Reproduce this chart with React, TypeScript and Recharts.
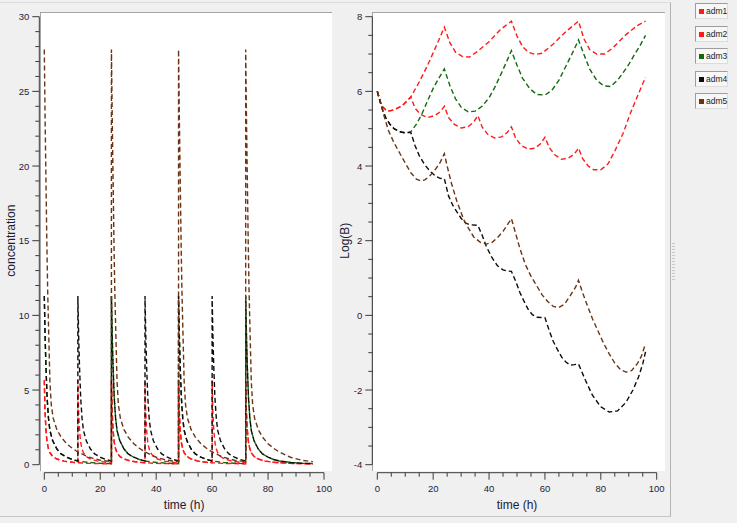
import React from "react";
import { LineChart, Line, XAxis, YAxis } from "recharts";

const SERIES_NAMES = ["adm1", "adm2", "adm3", "adm4", "adm5"];
const SERIES_COLORS = ["#ff1a1a", "#ff1a1a", "#13690f", "#0c0c0c", "#6b3414"];

// dosing times (h)
const DOSES_Q12 = [0, 12, 24, 36, 48, 60, 72];
const DOSES_Q24 = [0, 24, 48, 72];
const LAST_T = 96;

// one concentration spike: [hours after dose, concentration]
const SPIKE_RED: [number, number][] = [
  [0, 5.65], [0.25, 3.6], [0.6, 2.3], [1, 1.5], [1.5, 1.05], [2, 0.8], [3, 0.55],
  [4.5, 0.38], [7, 0.24], [10, 0.16], [12, 0.13], [16, 0.09], [20, 0.07], [24, 0.05],
];
const SPIKE_BLACK: [number, number][] = [
  [0, 11.3], [0.3, 8.5], [0.6, 6.5], [1, 4.5], [1.5, 3.1], [2, 2.3], [3, 1.6],
  [4.5, 1.05], [6, 0.72], [8, 0.5], [10, 0.35], [12, 0.25], [16, 0.15], [20, 0.1], [24, 0.07],
];
const SPIKE_BROWN: [number, number][] = [
  [0, 27.8], [0.3, 23], [0.6, 19], [0.9, 15], [1.2, 11.7], [1.6, 8.6], [2, 5.6],
  [2.5, 4], [3.2, 3.1], [4.5, 2.35], [6, 1.85], [8, 1.4], [10, 1.1], [12, 0.85],
  [16, 0.5], [20, 0.3], [24, 0.2],
];

// Log(B) curves: [time, value]
const LOGB_ADM1: [number, number][] = [
  [0, 6], [1.5, 5.62], [3.5, 5.47], [6, 5.5], [9, 5.62], [12, 5.85], [15, 6.25],
  [18, 6.7], [21, 7.2], [24, 7.72], [26, 7.3], [28, 7.05], [30.5, 6.93], [33, 6.92],
  [36, 7.08], [40, 7.33], [44, 7.65], [48, 7.88], [50, 7.48], [52, 7.2], [54, 7.05],
  [56.5, 6.99], [59, 7.02], [63, 7.27], [67.5, 7.6], [72, 7.88], [74, 7.4], [76, 7.12],
  [78.5, 7.0], [81.5, 7.0], [84.5, 7.18], [89, 7.52], [93, 7.76], [96, 7.88],
];
const LOGB_ADM2: [number, number][] = [
  [0, 6], [1.5, 5.62], [3.5, 5.47], [6, 5.5], [9, 5.62], [12, 5.85], [13.5, 5.55],
  [15.5, 5.38], [18, 5.3], [20.5, 5.35], [22.5, 5.45], [24, 5.6], [25.5, 5.3],
  [27.5, 5.12], [30, 5.02], [32.5, 5.05], [34.5, 5.18], [36, 5.35], [37.5, 5.05],
  [39.5, 4.85], [42, 4.75], [44.5, 4.78], [46.5, 4.9], [48, 5.05], [49.5, 4.75],
  [51.5, 4.55], [54, 4.45], [56.5, 4.48], [58.5, 4.6], [60, 4.77], [61.5, 4.5],
  [63.5, 4.3], [66, 4.18], [68.5, 4.22], [70.5, 4.32], [72, 4.48], [73.5, 4.2],
  [75.5, 4.0], [77.5, 3.9], [80, 3.9], [82.5, 4.05], [85, 4.4], [88, 4.88],
  [90.5, 5.4], [93, 5.85], [96, 6.38],
];
const LOGB_ADM3: [number, number][] = [
  [0, 6], [1, 5.72], [2, 5.48], [3, 5.3], [4.5, 5.12], [6, 5.0], [8, 4.92], [10, 4.89],
  [12, 4.92], [14, 5.12], [16, 5.4], [18, 5.75], [20, 6.08], [22, 6.35], [24, 6.6],
  [26, 6.15], [28, 5.8], [30, 5.58], [32.5, 5.45], [35, 5.47], [37.5, 5.6], [40, 5.83],
  [42, 6.1], [44, 6.42], [46, 6.75], [48, 7.09], [50, 6.7], [52, 6.35], [54.5, 6.08],
  [57, 5.92], [60, 5.9], [62.5, 6.03], [65, 6.3], [68, 6.75], [70, 7.05], [72, 7.38],
  [74, 6.98], [76, 6.6], [78.5, 6.3], [81, 6.15], [83.5, 6.13], [86, 6.3], [88, 6.5],
  [90, 6.72], [92, 6.98], [94, 7.22], [96, 7.5],
];
const LOGB_ADM4: [number, number][] = [
  [0, 6], [1, 5.72], [2, 5.48], [3, 5.3], [4.5, 5.12], [6, 5.0], [8, 4.92], [10, 4.89],
  [12, 4.9], [13.5, 4.55], [15, 4.28], [17, 4.03], [19, 3.85], [21, 3.72], [22.5, 3.67],
  [24, 3.66], [25.5, 3.2], [27, 2.95], [28.5, 2.77], [30, 2.6], [31.5, 2.48], [33, 2.43],
  [36, 2.41], [37.5, 2.15], [39, 1.85], [41, 1.55], [43, 1.33], [45, 1.22], [46.5, 1.19],
  [48, 1.18], [49.5, 0.92], [51, 0.62], [52.5, 0.38], [54, 0.16], [55.5, 0.02],
  [57, -0.05], [60, -0.06], [61.5, -0.4], [63, -0.7], [64.5, -0.92], [66, -1.12],
  [67.5, -1.25], [69, -1.33], [70.5, -1.32], [72, -1.3], [74.5, -1.74], [77, -2.14],
  [80, -2.45], [83, -2.59], [86, -2.56], [89, -2.33], [91.5, -2.0], [93.5, -1.65],
  [95, -1.3], [96, -0.98],
];
const LOGB_ADM5: [number, number][] = [
  [0, 6], [1, 5.75], [2.5, 5.32], [4, 4.95], [6, 4.62], [8, 4.35], [10, 4.08], [12, 3.82],
  [14, 3.65], [15.5, 3.6], [17, 3.63], [19, 3.75], [21, 3.93], [22.5, 4.1], [24, 4.33],
  [25, 4.0], [26.5, 3.55], [28.5, 3.05], [31, 2.55], [32.5, 2.35], [34.5, 2.1], [37, 1.95],
  [39, 1.91], [41, 1.95], [43, 2.08], [45, 2.25], [46.5, 2.42], [48, 2.59], [49.5, 2.2],
  [51, 1.8], [53, 1.36], [55, 1.05], [57, 0.8], [59, 0.55], [61, 0.37], [63, 0.24],
  [65, 0.21], [67, 0.3], [69, 0.52], [71, 0.76], [72, 0.94], [73.5, 0.6], [75, 0.3],
  [77, -0.09], [79, -0.42], [81, -0.75], [83, -1.03], [85, -1.28], [87, -1.45],
  [89, -1.52], [91, -1.48], [93, -1.3], [94.5, -1.1], [96, -0.76],
];

const X_TICKS = [0, 5, 10, 15, 20, 25, 30, 35, 40, 45, 50, 55, 60, 65, 70, 75, 80, 85, 90, 95, 100];
const X_LABELS = [0, 20, 40, 60, 80, 100];
const CONC_TICKS = [0, 1, 2, 3, 4, 5, 6, 7, 8, 9, 10, 11, 12, 13, 14, 15, 16, 17, 18, 19, 20, 21, 22, 23, 24, 25, 26, 27, 28, 29, 30];
const CONC_LABELS = [0, 5, 10, 15, 20, 25, 30];
const LOGB_TICKS = [-4, -3.5, -3, -2.5, -2, -1.5, -1, -0.5, 0, 0.5, 1, 1.5, 2, 2.5, 3, 3.5, 4, 4.5, 5, 5.5, 6, 6.5, 7, 7.5, 8];
const LOGB_LABELS = [-4, -2, 0, 2, 4, 6, 8];

const FONT = "'Liberation Sans', Arial, sans-serif";
const INK = "#1c1c36";
const AXIS = "#3a3a3a";
const DASH = "5 3";

// repeat one spike at every dose time
function spikes(profile: [number, number][], doses: number[]) {
  const out: { t: number; v: number }[] = [];
  doses.forEach((d, i) => {
    const next = i < doses.length - 1 ? doses[i + 1] : LAST_T;
    profile.forEach(([dt, v]) => {
      if (d + dt <= next) out.push({ t: d + dt, v });
    });
  });
  return out;
}

const pts = (arr: [number, number][]) => arr.map(([t, v]) => ({ t, v }));

const CONC_DATA = [
  spikes(SPIKE_RED, DOSES_Q24),
  spikes(SPIKE_RED, DOSES_Q12),
  spikes(SPIKE_BLACK, DOSES_Q24),
  spikes(SPIKE_BLACK, DOSES_Q12),
  spikes(SPIKE_BROWN, DOSES_Q24),
];
const LOGB_DATA = [LOGB_ADM1, LOGB_ADM2, LOGB_ADM3, LOGB_ADM4, LOGB_ADM5].map(pts);

function BottomTick({ x, y, payload, labels }: any) {
  const major = labels.includes(payload.value);
  const y0 = y + 8;
  return (
    <g>
      <line x1={x} x2={x} y1={y0} y2={y0 + (major ? 7 : 4)} stroke={AXIS} />
      {major && (
        <text x={x} y={y0 + 19} textAnchor="middle" fill={INK} fontSize={9.5} fontFamily={FONT}>
          {payload.value}
        </text>
      )}
    </g>
  );
}

function LeftTick({ x, y, payload, labels }: any) {
  const major = labels.includes(payload.value);
  const x0 = x - 5;
  return (
    <g>
      <line x1={x0} x2={x0 - (major ? 7 : 4)} y1={y} y2={y} stroke={AXIS} />
      {major && (
        <text x={x0 - 10} y={y + 3.5} textAnchor="end" fill={INK} fontSize={9.5} fontFamily={FONT}>
          {payload.value}
        </text>
      )}
    </g>
  );
}

function VerticalTitle({ viewBox, text, cx }: any) {
  if (!viewBox) return null;
  const x = viewBox.x + cx;
  const y = viewBox.y + viewBox.height / 2;
  return (
    <text
      x={x}
      y={y}
      transform={`rotate(-90 ${x} ${y})`}
      textAnchor="middle"
      dominantBaseline="central"
      fill={INK}
      fontSize={12}
      fontFamily={FONT}
    >
      {text}
    </text>
  );
}

function Panel({
  data,
  domain,
  ticks,
  labels,
  title,
  titleX,
  width,
  yAxisWidth,
  right,
}: any) {
  return (
    <LineChart width={width} height={523} margin={{ top: 16.7, right, bottom: 0, left: 0 }}>
      <XAxis
        type="number"
        dataKey="t"
        domain={[0, 100]}
        ticks={X_TICKS}
        interval={0}
        height={58.3}
        tickSize={0}
        tickMargin={0}
        tickLine={false}
        tick={(p: any) => <BottomTick {...p} labels={X_LABELS} />}
        axisLine={{ stroke: AXIS, transform: "translate(0 8)" }}
        label={{
          value: "time (h)",
          position: "insideBottom",
          offset: 14,
          fill: INK,
          fontSize: 12,
          fontFamily: FONT,
        }}
      />
      <YAxis
        type="number"
        domain={domain}
        ticks={ticks}
        interval={0}
        width={yAxisWidth}
        tickSize={0}
        tickMargin={0}
        tickLine={false}
        tick={(p: any) => <LeftTick {...p} labels={labels} />}
        axisLine={{ stroke: AXIS, transform: "translate(-5 0)" }}
        label={(p: any) => <VerticalTitle {...p} text={title} cx={titleX} />}
      />
      {data.map((d: any, i: number) => (
        <Line
          key={SERIES_NAMES[i]}
          data={d}
          dataKey="v"
          name={SERIES_NAMES[i]}
          type="linear"
          stroke={SERIES_COLORS[i]}
          strokeWidth={1.4}
          strokeDasharray={DASH}
          dot={false}
          isAnimationActive={false}
        />
      ))}
    </LineChart>
  );
}

function LegendBox() {
  return (
    <div style={{ position: "absolute", left: 695, top: 3 }}>
      {SERIES_NAMES.map((n, i) => (
        <div
          key={n}
          style={{
            position: "absolute",
            top: i * 22.6,
            left: 0,
            width: 31,
            height: 14,
            background: "#f7f7f7",
            borderTop: "1px solid #9d9d9d",
            borderLeft: "1px solid #9d9d9d",
            borderRight: "1px solid #dcdcdc",
            borderBottom: "1px solid #dcdcdc",
            fontFamily: FONT,
            fontSize: 8.5,
            color: "#222",
          }}
        >
          <span
            style={{
              position: "absolute",
              left: 3,
              top: 5,
              width: 5,
              height: 5,
              background: SERIES_COLORS[i],
            }}
          />
          <span style={{ position: "absolute", left: 10, top: 2 }}>{n}</span>
        </div>
      ))}
    </div>
  );
}

export default function App() {
  return (
    <div
      style={{
        position: "absolute",
        left: 0,
        top: 0,
        width: 737,
        height: 523,
        background: "#f0f0f0",
        overflow: "hidden",
      }}
    >
      <div
        style={{
          position: "absolute",
          left: -1,
          top: 2,
          width: 671,
          height: 513,
          borderTop: "1px solid #dcdcdc",
          borderRight: "1px solid #b4b4b4",
          borderBottom: "1px solid #c4c4c4",
        }}
      />
      <div
        style={{
          position: "absolute",
          left: 672,
          top: 243,
          width: 3,
          height: 38,
          background: "repeating-linear-gradient(#c8c8c8 0 1px, transparent 1px 3px)",
        }}
      />
      <div
        style={{
          position: "absolute",
          left: 40,
          top: 12,
          width: 291,
          height: 458,
          background: "#fff",
          borderTop: "1px solid #a4a4a4",
          borderLeft: "1px solid #a4a4a4",
        }}
      />
      <div
        style={{
          position: "absolute",
          left: 372,
          top: 12,
          width: 292,
          height: 458,
          background: "#fff",
          borderTop: "1px solid #a4a4a4",
          borderLeft: "1px solid #a4a4a4",
        }}
      />
      <div style={{ position: "absolute", left: 0, top: 0 }}>
        <Panel
          data={CONC_DATA}
          domain={[0, 30]}
          ticks={CONC_TICKS}
          labels={CONC_LABELS}
          title="concentration"
          titleX={11}
          width={332}
          yAxisWidth={44.3}
          right={8}
        />
      </div>
      <div style={{ position: "absolute", left: 332, top: 0 }}>
        <Panel
          data={LOGB_DATA}
          domain={[-4, 8]}
          ticks={LOGB_TICKS}
          labels={LOGB_LABELS}
          title="Log(B)"
          titleX={13}
          width={340}
          yAxisWidth={45.3}
          right={15.3}
        />
      </div>
      <LegendBox />
    </div>
  );
}
